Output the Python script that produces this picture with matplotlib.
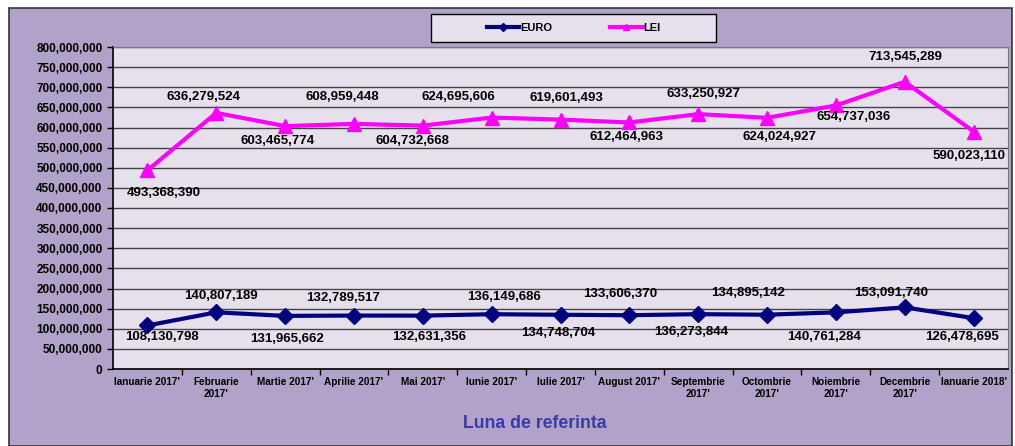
import matplotlib
matplotlib.use('Agg')
import matplotlib.pyplot as plt
from matplotlib.patches import Rectangle
from matplotlib.ticker import FuncFormatter, MultipleLocator

# Data
months = ["Ianuarie 2017'", "Februarie\n2017'", "Martie 2017'", "Aprilie 2017'",
          "Mai 2017'", "Iunie 2017'", "Iulie 2017'", "August 2017'",
          "Septembrie\n2017'", "Octombrie\n2017'", "Noiembrie\n2017'",
          "Decembrie\n2017'", "Ianuarie 2018'"]
euro = [108130798, 140807189, 131965662, 132789517, 132631356, 136149686,
        134748704, 133606370, 136273844, 134895142, 140761284, 153091740,
        126478695]
lei = [493368390, 636279524, 603465774, 608959448, 604732668, 624695606,
       619601493, 612464963, 633250927, 624024927, 654737036, 713545289,
       590023110]

# label placement (pixel offsets of label centre from the marker, +y = up)
euro_dx = [15, 5, 2, -11, 6, 12, -2, -9, -7, -19, -12, -14, -12]
euro_dy = [-12, 16, -23, 18, -21, 17, -18, 21, -18, 22, -25, 14, -19]
lei_dx = [16, -13, -7, -12, -10, -33, 6, -3, 5, 12, 18, 1, -5]
lei_dy = [-23, 16, -15, 27, -15, 21, 22, -15, 20, -19, -12, 25, -24]

plt.rcParams['font.family'] = ['Liberation Sans', 'DejaVu Sans']
plt.rcParams['font.weight'] = 'bold'

bg = '#B0A2C8'
plot_bg = '#E6E0EC'

fig = plt.figure(figsize=(10.15, 4.46), dpi=100)
fig.patch.set_facecolor('white')
# outer chart frame
fig.patches.append(Rectangle((9 / 1015, 0), 1003 / 1015, 1 - 8 / 446,
                             transform=fig.transFigure, facecolor=bg,
                             edgecolor='#333333', linewidth=1.2, zorder=-10))
# legend box
fig.patches.append(Rectangle((431 / 1015, 1 - 42 / 446), 285 / 1015, 28 / 446,
                             transform=fig.transFigure, facecolor=plot_bg,
                             edgecolor='black', linewidth=1, zorder=-5))

ax = fig.add_axes([113 / 1015, 1 - 369 / 446, 895 / 1015, 322 / 446])
ax.set_facecolor(plot_bg)

x = list(range(len(months)))
ax.plot(x, euro, color='#000080', linewidth=3, marker='D', markersize=8.5,
        label='EURO', zorder=3)
ax.plot(x, lei, color='#FF00FF', linewidth=3, marker='^', markersize=10.5,
        label='LEI', zorder=3)

for vals, dxs, dys in ((euro, euro_dx, euro_dy), (lei, lei_dx, lei_dy)):
    for i in x:
        ax.annotate(f'{vals[i]:,}', (i, vals[i]), xytext=(dxs[i], dys[i]),
                    textcoords='offset pixels', ha='center', va='center',
                    fontsize=9.5, fontweight='bold', color='black', zorder=4)

ax.set_xlim(-0.5, len(months) - 0.5)
ax.set_ylim(0, 800000000)
ax.yaxis.set_major_locator(MultipleLocator(50000000))
ax.yaxis.set_major_formatter(FuncFormatter(lambda v, p: f'{int(v):,}'))
ax.grid(axis='y', color='#444444', linewidth=1)
ax.set_axisbelow(True)

ax.set_xticks(x)
ax.set_xticklabels(months, fontsize=7.2, fontweight='bold')
ax.set_xticks([i + 0.5 for i in x[:-1]], minor=True)
ax.tick_params(axis='x', which='major', length=0, pad=6)
ax.tick_params(axis='x', which='minor', length=4, direction='out', width=1)
ax.tick_params(axis='y', labelsize=8.5, length=4, direction='out', width=1)

for side in ('top', 'right'):
    ax.spines[side].set_color('#777777')
for side in ('left', 'bottom'):
    ax.spines[side].set_color('black')
    ax.spines[side].set_linewidth(1.2)

fig.text(535 / 1015, 1 - 424 / 446, 'Luna de referinta', ha='center',
         va='center', fontsize=12.7, fontweight='bold', color='#3A3AA8')

leg = ax.legend(loc='center', bbox_to_anchor=(574 / 1015, 1 - 28 / 446),
                bbox_transform=fig.transFigure, ncol=2, fontsize=8,
                frameon=False, handlelength=2.9, handletextpad=0.1,
                columnspacing=5.2, markerscale=0.45)
for h in leg.get_lines():
    h.set_linewidth(3)

fig.savefig('out.png', dpi=100, facecolor=fig.get_facecolor())
